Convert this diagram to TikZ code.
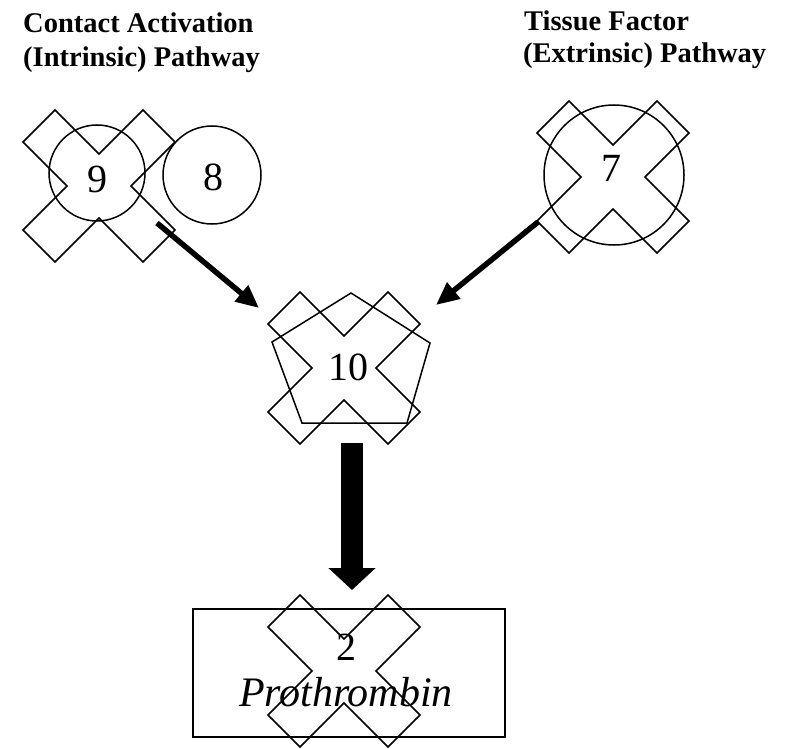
\documentclass[tikz,border=0pt]{standalone}
\usepackage{fontspec}
\setmainfont{Liberation Serif}
\usetikzlibrary{arrows.meta}
\begin{document}
\begin{tikzpicture}[x=1pt,y=-1pt,
  outline/.style={draw,line width=1.5pt,line join=miter},
  ring/.style={outline,circle,inner sep=0pt},
  numtext/.style={font=\fontsize{40}{48}\selectfont,inner sep=0pt,anchor=base},
  titletext/.style={font=\fontsize{28.5}{34}\selectfont\bfseries,inner sep=0pt,anchor=base west},
  thinarrow/.style={line width=5.5pt,-{Triangle[length=23pt,width=20pt]}},
  bigarrow/.style={line width=22pt,-{Triangle[length=22pt,width=46pt]}},
  xmark/.pic={\draw[outline] (-44,-76)--(0,-32)--(44,-76)--(76,-44)--(32,0)--(76,44)--(44,76)--(0,32)--(-44,76)--(-76,44)--(-32,0)--(-76,-44)--cycle;}
]
\useasboundingbox (0,0) rectangle (787,749);

% titles
\node[titletext] (t1a) at (23,33) {Contact Activation};
\node[titletext] (t1b) at (23,67) {(Intrinsic) Pathway};
\node[titletext] (t2a) at (524,31) {Tissue Factor};
\node[titletext] (t2b) at (523,63) {(Extrinsic) Pathway};

% factor 9 and 8
\node[ring,minimum size=96pt] (c9) at (97,173) {};
\pic at (99,186) {xmark};
\node[numtext] (n9) at (97,192) {9};
\node[ring,minimum size=98pt] (c8) at (212,175) {};
\node[numtext] (n8) at (213,190) {8};

% factor 7
\node[ring,minimum size=140pt] (c7) at (614,175) {};
\pic at (613,177) {xmark};
\node[numtext] (n7) at (611,182) {7};

% factor 10
\draw[outline] (351,293)--(430,343)--(407,423)--(302,423)--(272,342)--cycle;
\pic at (344,368) {xmark};
\node[numtext] (n10) at (348,380) {10};

% prothrombin
\node[outline,rectangle,minimum width=312pt,minimum height=128pt,inner sep=0pt] (box) at (349,673) {};
\pic at (344,671) {xmark};
\node[numtext] (n2) at (346,660) {2};
\node[font=\fontsize{42}{50}\selectfont\itshape,inner sep=0pt,anchor=base] (pro) at (346,706) {Prothrombin};

% arrows
\coordinate (a9s) at (157,223);
\coordinate (a9e) at (259,308);
\coordinate (a7s) at (538,222);
\coordinate (a7e) at (436,305);
\coordinate (a10s) at (352,443);
\coordinate (a10e) at (352,590);
\draw[thinarrow] (a9s) -- (a9e);
\draw[thinarrow] (a7s) -- (a7e);
\draw[bigarrow] (a10s) -- (a10e);
\end{tikzpicture}
\end{document}
